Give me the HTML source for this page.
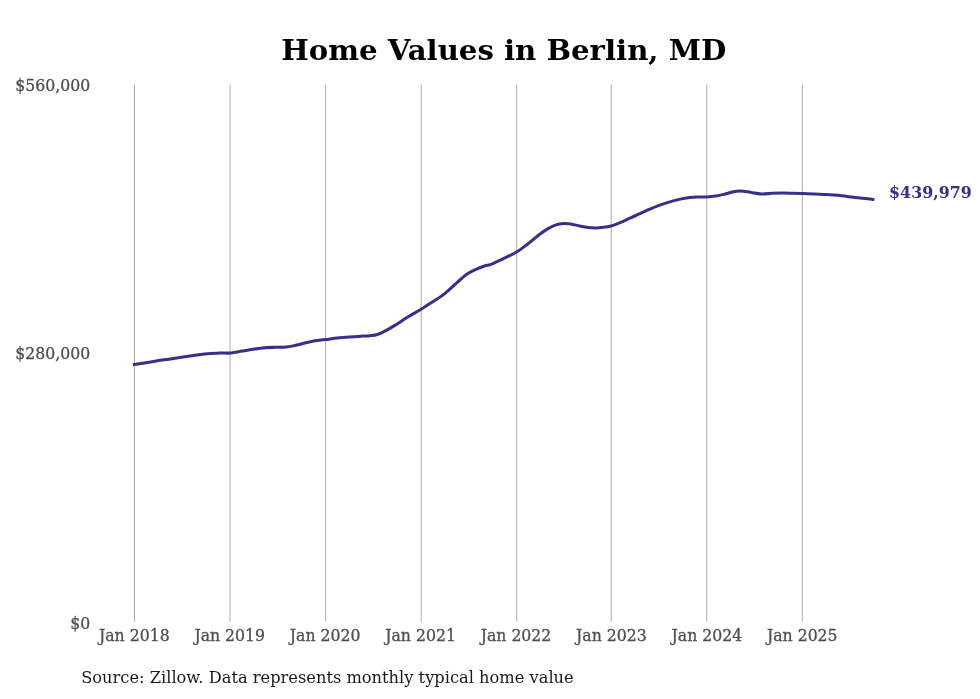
<!DOCTYPE html>
<html><head><meta charset="utf-8"><title>Home Values in Berlin, MD</title>
<style>
html,body{margin:0;padding:0;background:#fff;}
body{width:980px;height:699px;overflow:hidden;font-family:"DejaVu Serif","Liberation Serif",serif;}
svg{display:block;}
svg text{font-family:"DejaVu Serif","Liberation Serif",serif;}
</style></head><body>
<svg width="980" height="699" viewBox="0 0 980 699">
<rect width="980" height="699" fill="#ffffff"/>
<g stroke="#acacac" stroke-width="1" fill="none">
<line x1="134.50" y1="84.5" x2="134.50" y2="621.8"/>
<line x1="230.00" y1="84.5" x2="230.00" y2="621.8"/>
<line x1="325.60" y1="84.5" x2="325.60" y2="621.8"/>
<line x1="421.20" y1="84.5" x2="421.20" y2="621.8"/>
<line x1="516.70" y1="84.5" x2="516.70" y2="621.8"/>
<line x1="611.20" y1="84.5" x2="611.20" y2="621.8"/>
<line x1="706.75" y1="84.5" x2="706.75" y2="621.8"/>
<line x1="802.30" y1="84.5" x2="802.30" y2="621.8"/>
</g>
<text transform="translate(503.70,60.45) scale(1,0.965)" text-anchor="middle" font-size="29.17" font-weight="bold" fill="#000">Home Values in Berlin, MD</text>
<g font-size="15.7" fill="#4f4f4f" stroke="#4f4f4f" stroke-width="0.3">
<text transform="translate(90.20,90.60) scale(1,1.07)" text-anchor="end">$560,000</text>
<text transform="translate(90.20,358.55) scale(1,1.07)" text-anchor="end">$280,000</text>
<text transform="translate(90.20,628.60) scale(1,1.07)" text-anchor="end">$0</text>
<text transform="translate(134.30,640.70) scale(1,1.07)" text-anchor="middle">Jan 2018</text>
<text transform="translate(229.72,640.70) scale(1,1.07)" text-anchor="middle">Jan 2019</text>
<text transform="translate(325.14,640.70) scale(1,1.07)" text-anchor="middle">Jan 2020</text>
<text transform="translate(420.56,640.70) scale(1,1.07)" text-anchor="middle">Jan 2021</text>
<text transform="translate(515.98,640.70) scale(1,1.07)" text-anchor="middle">Jan 2022</text>
<text transform="translate(611.40,640.70) scale(1,1.07)" text-anchor="middle">Jan 2023</text>
<text transform="translate(706.82,640.70) scale(1,1.07)" text-anchor="middle">Jan 2024</text>
<text transform="translate(802.24,640.70) scale(1,1.07)" text-anchor="middle">Jan 2025</text>
</g>
<path d="M134.40,364.40 C137.82,363.88 147.33,362.47 154.90,361.30 C162.47,360.13 171.50,358.62 179.80,357.40 C188.10,356.18 198.05,354.72 204.70,354.00 C211.35,353.28 215.33,353.27 219.70,353.10 C224.07,352.93 227.17,353.33 230.90,353.00 C234.63,352.67 238.92,351.63 242.10,351.10 C245.28,350.57 246.60,350.33 250.00,349.80 C253.40,349.27 258.35,348.32 262.50,347.90 C266.65,347.48 270.97,347.43 274.90,347.30 C278.83,347.17 282.78,347.40 286.10,347.10 C289.42,346.80 291.68,346.18 294.80,345.50 C297.92,344.82 301.47,343.78 304.80,343.00 C308.13,342.22 311.38,341.37 314.80,340.80 C318.22,340.23 321.57,340.07 325.30,339.60 C329.03,339.13 333.15,338.45 337.20,338.00 C341.25,337.55 345.45,337.22 349.60,336.90 C353.75,336.58 358.70,336.30 362.10,336.10 C365.50,335.90 367.43,335.97 370.00,335.70 C372.57,335.43 375.02,335.25 377.50,334.50 C379.98,333.75 382.00,332.72 384.90,331.20 C387.80,329.68 391.15,327.72 394.90,325.40 C398.65,323.08 403.03,320.00 407.40,317.30 C411.77,314.60 416.95,311.73 421.10,309.20 C425.25,306.67 428.37,304.70 432.30,302.10 C436.23,299.50 440.55,296.88 444.70,293.60 C448.85,290.32 453.47,285.65 457.20,282.40 C460.93,279.15 463.98,276.28 467.10,274.10 C470.22,271.92 472.98,270.65 475.90,269.30 C478.82,267.95 482.08,266.83 484.60,266.00 C487.12,265.17 488.02,265.45 491.00,264.30 C493.98,263.15 498.30,261.10 502.50,259.10 C506.70,257.10 512.05,254.78 516.20,252.30 C520.35,249.82 523.47,247.22 527.40,244.20 C531.33,241.18 536.28,236.83 539.80,234.20 C543.32,231.57 545.80,229.95 548.50,228.40 C551.20,226.85 553.50,225.70 556.00,224.90 C558.50,224.10 561.02,223.75 563.50,223.60 C565.98,223.45 568.20,223.58 570.90,224.00 C573.60,224.42 576.78,225.50 579.70,226.10 C582.62,226.70 585.70,227.28 588.40,227.60 C591.10,227.92 593.20,228.08 595.90,228.00 C598.60,227.92 602.08,227.43 604.60,227.10 C607.12,226.77 608.02,226.92 611.00,226.00 C613.98,225.08 618.52,223.27 622.50,221.60 C626.48,219.93 630.75,217.90 634.90,216.00 C639.05,214.10 643.25,212.02 647.40,210.20 C651.55,208.38 655.65,206.62 659.80,205.10 C663.95,203.58 668.15,202.25 672.30,201.10 C676.45,199.95 680.55,198.88 684.70,198.20 C688.85,197.52 693.57,197.20 697.20,197.00 C700.83,196.80 703.38,197.15 706.50,197.00 C709.62,196.85 712.88,196.57 715.90,196.10 C718.92,195.63 721.88,194.87 724.60,194.20 C727.32,193.53 729.65,192.62 732.20,192.10 C734.75,191.58 737.37,191.17 739.90,191.10 C742.43,191.03 744.90,191.37 747.40,191.70 C749.90,192.03 752.40,192.72 754.90,193.10 C757.40,193.48 759.50,193.97 762.40,194.00 C765.30,194.03 768.98,193.47 772.30,193.30 C775.62,193.13 778.98,193.02 782.30,193.00 C785.62,192.98 788.78,193.10 792.20,193.20 C795.62,193.30 799.05,193.45 802.80,193.60 C806.55,193.75 810.65,193.93 814.70,194.10 C818.75,194.27 823.22,194.40 827.10,194.60 C830.98,194.80 833.77,194.88 838.00,195.30 C842.23,195.72 848.02,196.55 852.50,197.10 C856.98,197.65 861.50,198.22 864.90,198.60 C868.30,198.98 871.57,199.27 872.90,199.40" fill="none" stroke="#372f8a" stroke-width="3.05" stroke-linejoin="round" stroke-linecap="square"/>
<text transform="translate(889.10,198.30) scale(1,1.07)" text-anchor="start" font-size="15.85" font-weight="bold" fill="#372f8a">$439,979</text>
<text transform="translate(81.20,683.30) scale(1,1.0)" text-anchor="start" font-size="16.25" fill="#1a1a1a">Source: Zillow. Data represents monthly typical home value</text>
</svg>
</body></html>
